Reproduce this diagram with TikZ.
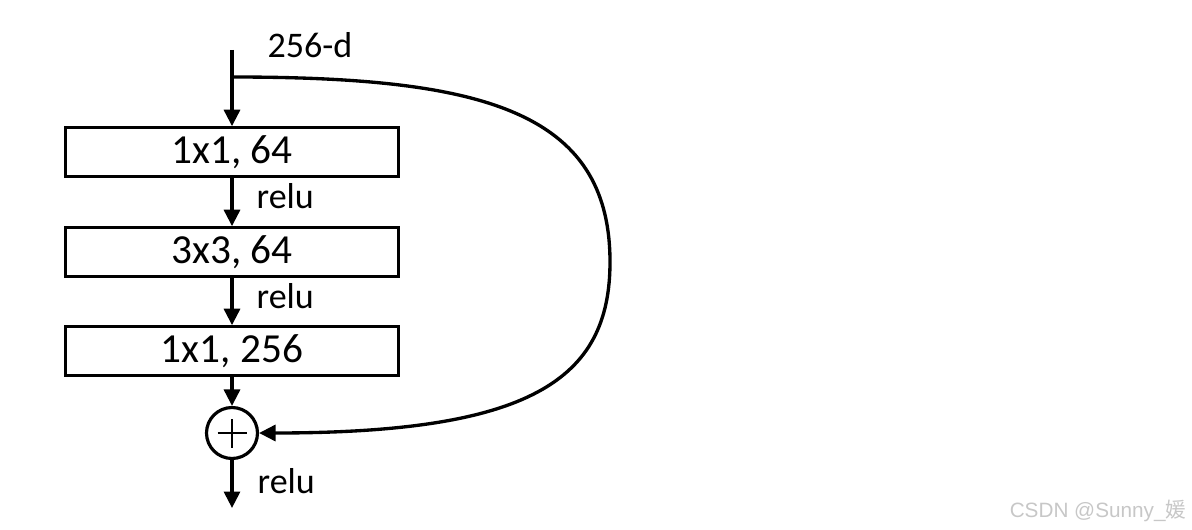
\documentclass[tikz,border=0pt]{standalone}
\usepackage{fontspec}
\setmainfont{Carlito}
\newfontfamily\cjk{Noto Sans CJK SC}
\newfontfamily\wmfont{Liberation Sans}
\usetikzlibrary{arrows.meta}
\begin{document}
\begin{tikzpicture}[x=0.02cm,y=-0.02cm,
  line width=1.9pt,
  layer/.style={draw, line width=1.8pt, minimum width=6.66cm, minimum height=0.97cm, inner sep=0pt, font=\fontsize{23.5}{28}\selectfont},
  lbl/.style={font=\fontsize{20.5}{24}\selectfont, inner sep=0pt, anchor=west},
  arr/.style={-{Triangle[length=0.33cm,width=0.32cm]}},
  ]
\useasboundingbox (0,0) rectangle (1192,530);
\coordinate (in) at (232,50);
\coordinate (split) at (232,77);
\node[layer] (b1) at (232,152) {1x1, 64};
\node[layer] (b2) at (232,252) {3x3, 64};
\node[layer] (b3) at (232,351) {1x1, 256};
\node[draw, circle, line width=1.8pt, minimum size=1.02cm, inner sep=0pt] (plus) at (232,433) {};
\draw[line width=1.4pt] ([xshift=-0.29cm]plus.center) -- ([xshift=0.29cm]plus.center);
\draw[line width=1.4pt] ([yshift=-0.29cm]plus.center) -- ([yshift=0.29cm]plus.center);
\coordinate (out) at (232,508);
\node[lbl] (l0) at (266,45) {256-d};
\node[lbl] (r1) at (255,196) {relu};
\node[lbl] (r2) at (255,296) {relu};
\node[lbl] (r3) at (256,481) {relu};
\draw[arr] (in) -- (b1.north);
\draw[arr] (b1) -- (b2);
\draw[arr] (b2) -- (b3);
\draw[arr] (b3) -- (plus);
\draw[arr] (plus) -- (out);
\draw[arr] (split) .. controls (480,77) and (610,110) .. (610,262) .. controls (610,380) and (530,433) .. (plus.east);
\node[font=\wmfont\fontsize{11.8}{14}\selectfont, text=black!22, anchor=east, inner sep=0pt] (wm) at (1188,511) {CSDN @Sunny\_{\cjk 媛}};
\end{tikzpicture}
\end{document}
